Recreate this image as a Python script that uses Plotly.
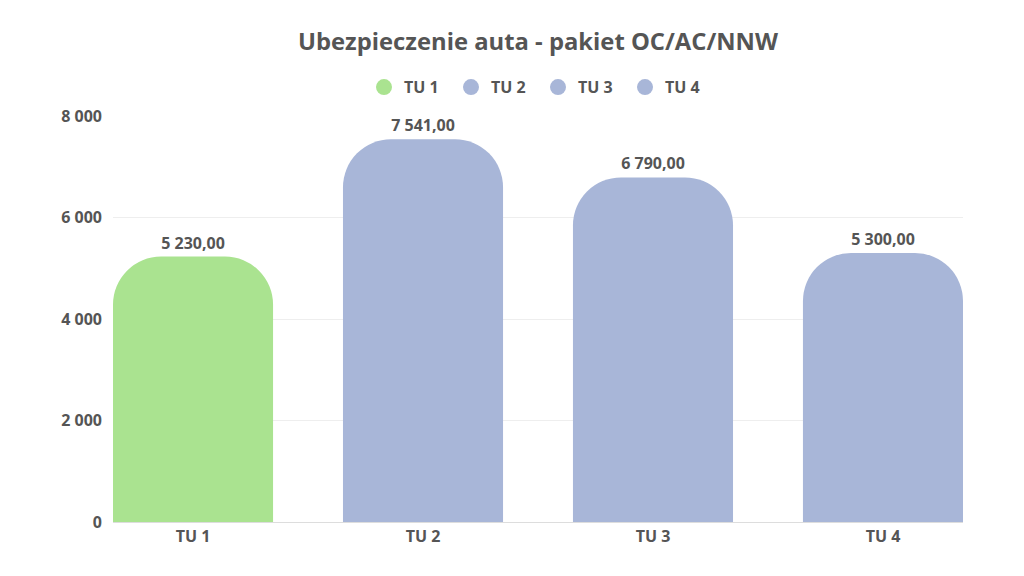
import plotly.graph_objects as go

categories = ["TU 1", "TU 2", "TU 3", "TU 4"]
values = [5230.00, 7541.00, 6790.00, 5300.00]
colors = ["#aae390", "#a8b6d8", "#a8b6d8", "#a8b6d8"]
y_ticks = [0, 2000, 4000, 6000, 8000]

font_family = "Open Sans, Noto Sans, sans-serif"
text_col = "#555555"

fig = go.Figure()

fig.add_trace(go.Bar(
    x=categories,
    y=values,
    marker=dict(color=colors, line=dict(width=0)),
    texttemplate="%{y:,.2f}",
    textposition="outside",
    textfont=dict(size=16, color=text_col, family=font_family, weight="bold"),
    cliponaxis=False,
    showlegend=False,
))

# legend entries with round markers
for name, col in zip(categories, colors):
    fig.add_trace(go.Scatter(
        x=[None], y=[None], mode="markers", name=name,
        marker=dict(symbol="circle", size=16, color=col),
    ))

fig.update_layout(
    width=1024, height=576,
    separators=", ",
    paper_bgcolor="white",
    plot_bgcolor="white",
    font=dict(family=font_family, color=text_col, size=16, weight="bold"),
    title=dict(
        text="Ubezpieczenie auta - pakiet OC/AC/NNW",
        xref="paper", x=0.5, xanchor="center", y=0.941, yanchor="middle",
        font=dict(size=23.8, color=text_col, family=font_family, weight="bold"),
    ),
    legend=dict(
        orientation="h", x=0.5, xanchor="center", y=1.071, yanchor="middle",
        font=dict(size=16, color=text_col, weight="bold"), itemsizing="trace",
        traceorder="normal", entrywidth=42, entrywidthmode="pixels",
    ),
    bargap=0.304,
    barcornerradius=48,
    margin=dict(l=105, r=69, t=108, b=62),
)

fig.update_xaxes(
    type="category",
    range=[-0.348, 3.348],
    showgrid=False,
    showline=True, linecolor="#dddddd", linewidth=1,
    ticks="",
    tickfont=dict(size=16, color=text_col, weight="bold"),
)
fig.update_yaxes(
    range=[0, 8000],
    tickvals=y_ticks,
    tickformat=",d",
    showgrid=True, gridcolor="#eeeeee", gridwidth=1,
    zeroline=False,
    tickfont=dict(size=16, color=text_col, weight="bold"),
    ticklabelstandoff=10,
)

fig.write_html("out.html")
